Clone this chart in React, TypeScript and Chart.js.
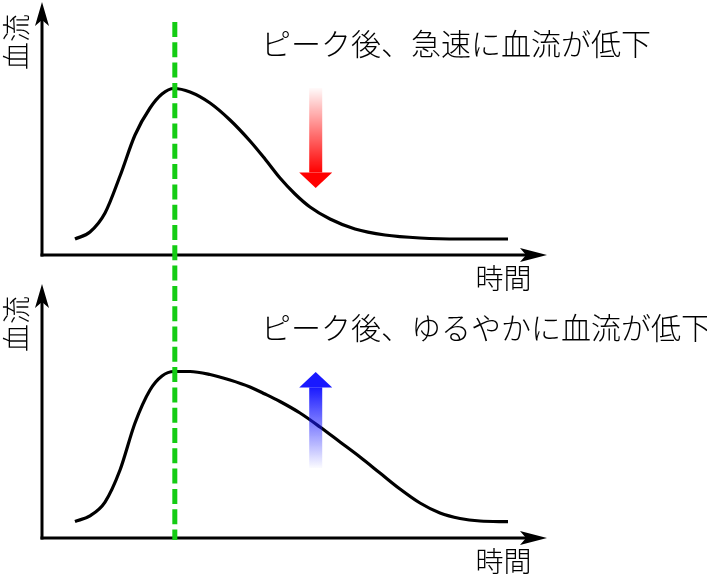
import React, { useEffect, useRef } from "react";
import { Chart, registerables } from "chart.js";

Chart.register(...registerables);

// ---- data ----
const timesFast = [6.53, 9.5, 12.48, 15.45, 18.42, 21.39, 23.76, 26.14, 29.31, 33.27, 37.23, 41.19, 44.16, 47.13, 50.1, 53.07, 57.03, 61.98, 67.92, 74.85, 82.77, 92.28];
const flowFast = [6.32, 9.09, 16.6, 31.23, 47.43, 58.1, 63.64, 65.81, 64.43, 60.08, 53.36, 45.06, 37.94, 30.43, 24.11, 18.97, 14.23, 10.28, 7.91, 6.72, 6.32, 6.32];

const timesSlow = [6.53, 9.5, 12.48, 15.45, 18.42, 21.39, 23.76, 26.14, 29.31, 33.27, 37.23, 41.19, 44.16, 47.13, 51.09, 55.05, 59.01, 62.97, 66.93, 70.89, 74.85, 78.81, 82.77, 86.73, 92.28];
const flowSlow = [6.5, 8.74, 14.17, 26.77, 45.28, 58.27, 63.78, 65.55, 65.55, 64.37, 62.2, 59.45, 56.69, 53.74, 49.21, 43.7, 37.8, 31.89, 25.59, 19.29, 13.78, 9.84, 7.68, 6.69, 6.42];

const peakTime = 26.3;
const panelTitles = ["ピーク後、急速に血流が低下", "ピーク後、ゆるやかに血流が低下"];
const yAxisLabel = "血流";
const xAxisLabel = "時間";

const W = 707;
const H = 574;
const FONT = '"Noto Sans CJK JP", "Noto Sans", sans-serif';

type ArrowSpec = { x: number; from: number; to: number; rgb: string };

function drawAxes(chart: any, titleOffset: number, title: string) {
  const ctx = chart.ctx as CanvasRenderingContext2D;
  const { left, right, top, bottom } = chart.chartArea;
  ctx.save();
  ctx.strokeStyle = "#000";
  ctx.fillStyle = "#000";
  ctx.lineWidth = 3;
  // y axis
  ctx.beginPath();
  ctx.moveTo(left, bottom + 1.5);
  ctx.lineTo(left, top + 16);
  ctx.stroke();
  ctx.beginPath();
  ctx.moveTo(left, top);
  ctx.lineTo(left - 7, top + 24);
  ctx.lineTo(left, top + 18);
  ctx.lineTo(left + 7, top + 24);
  ctx.closePath();
  ctx.fill();
  // x axis
  ctx.beginPath();
  ctx.moveTo(left - 1.5, bottom);
  ctx.lineTo(right - 16, bottom);
  ctx.stroke();
  ctx.beginPath();
  ctx.moveTo(right, bottom);
  ctx.lineTo(right - 27, bottom - 7);
  ctx.lineTo(right - 21, bottom);
  ctx.lineTo(right - 27, bottom + 7);
  ctx.closePath();
  ctx.fill();

  // labels
  ctx.font = `300 28px ${FONT}`;
  ctx.textAlign = "center";
  ctx.textBaseline = "middle";
  ctx.save();
  ctx.translate(left - 26, top + 40);
  ctx.rotate(-Math.PI / 2);
  ctx.fillText(yAxisLabel, 0, 0);
  ctx.restore();
  ctx.fillText(xAxisLabel, right - 43.5, bottom + 23);

  ctx.font = `300 30px ${FONT}`;
  ctx.textAlign = "left";
  ctx.fillText(title, 261, top + titleOffset);
  ctx.restore();
}

function drawArrow(chart: any, a: ArrowSpec) {
  const ctx = chart.ctx as CanvasRenderingContext2D;
  const xs = chart.scales.x;
  const ys = chart.scales.y;
  const cx = xs.getPixelForValue(a.x);
  const tail = ys.getPixelForValue(a.from);
  const tip = ys.getPixelForValue(a.to);
  const dir = tip > tail ? 1 : -1;
  const headLen = 15.5;
  const headBase = tip - dir * headLen;
  const g = ctx.createLinearGradient(0, tail, 0, headBase);
  g.addColorStop(0, `rgba(${a.rgb},0.02)`);
  g.addColorStop(1, `rgba(${a.rgb},1)`);
  ctx.save();
  ctx.fillStyle = g;
  ctx.fillRect(cx - 6.5, Math.min(tail, headBase), 13, Math.abs(headBase - tail));
  ctx.fillStyle = `rgb(${a.rgb})`;
  ctx.beginPath();
  ctx.moveTo(cx - 16.5, headBase);
  ctx.lineTo(cx + 16.5, headBase);
  ctx.lineTo(cx, tip);
  ctx.closePath();
  ctx.fill();
  ctx.restore();
}

function makePanel(
  canvas: HTMLCanvasElement,
  times: number[],
  flows: number[],
  padTop: number,
  padBottom: number,
  title: string,
  titleOffset: number,
  arrow: ArrowSpec,
  drawPeak: boolean
) {
  const plugin = {
    id: "decor",
    beforeDatasetsDraw(chart: any) {
      drawAxes(chart, titleOffset, title);
    },
    afterDatasetsDraw(chart: any) {
      drawArrow(chart, arrow);
      if (drawPeak) {
        const ctx = chart.ctx as CanvasRenderingContext2D;
        const px = chart.scales.x.getPixelForValue(peakTime);
        ctx.save();
        ctx.strokeStyle = "rgb(20,204,20)";
        ctx.lineWidth = 5;
        ctx.setLineDash([15, 5.3]);
        ctx.beginPath();
        ctx.moveTo(px, 22);
        ctx.lineTo(px, chart.chartArea.bottom + 2);
        ctx.stroke();
        ctx.restore();
      }
    },
  };
  return new Chart(canvas, {
    type: "line",
    data: {
      datasets: [
        {
          data: times.map((t, i) => ({ x: t, y: flows[i] })),
          borderColor: "#000",
          borderWidth: 3.2,
          pointRadius: 0,
          fill: false,
          cubicInterpolationMode: "monotone",
          clip: false as any,
        },
      ],
    },
    options: {
      responsive: false,
      maintainAspectRatio: false,
      animation: false,
      devicePixelRatio: 1,
      events: [],
      layout: { padding: { left: 42, right: W - 547, top: padTop, bottom: padBottom } },
      plugins: { legend: { display: false }, tooltip: { enabled: false } },
      scales: {
        x: { type: "linear", min: 0, max: 100, display: false },
        y: { type: "linear", min: 0, max: 100, display: false },
      },
    } as any,
    plugins: [plugin],
  });
}

export default function App() {
  const topRef = useRef<HTMLCanvasElement>(null);
  const botRef = useRef<HTMLCanvasElement>(null);

  useEffect(() => {
    const c1 = makePanel(
      topRef.current!,
      timesFast,
      flowFast,
      2,
      H - 255,
      panelTitles[0],
      42,
      { x: 54.2, from: 66, to: 26.5, rgb: "255,0,0" },
      false
    );
    const c2 = makePanel(
      botRef.current!,
      timesSlow,
      flowSlow,
      284,
      H - 538,
      panelTitles[1],
      44,
      { x: 54.2, from: 27.6, to: 65.4, rgb: "25,25,255" },
      true
    );
    return () => {
      c1.destroy();
      c2.destroy();
    };
  }, []);

  const style: React.CSSProperties = { position: "absolute", left: 0, top: 0, width: W, height: H };
  return (
    <div style={{ position: "absolute", left: 0, top: 0, width: W, height: H, background: "#fff" }}>
      <canvas ref={topRef} width={W} height={H} style={style} />
      <canvas ref={botRef} width={W} height={H} style={style} />
    </div>
  );
}
